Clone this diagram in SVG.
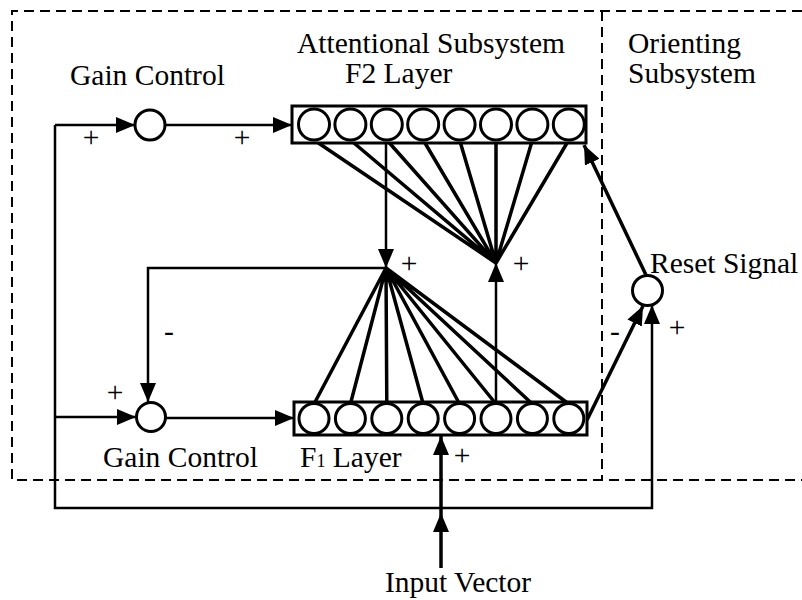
<svg xmlns="http://www.w3.org/2000/svg" width="802" height="600" viewBox="0 0 802 600">
<defs>
<style>
.t{font-family:"Liberation Serif","Times New Roman",serif;font-size:29.5px;fill:#000}
.dash{fill:none;stroke:#000;stroke-width:2;stroke-dasharray:10,6}
.c{fill:#fff;stroke:#000;stroke-width:3}
.box{fill:#fff;stroke:#000;stroke-width:3}
.ln{fill:none;stroke:#000;stroke-width:2.5}
.fan{fill:none;stroke:#000;stroke-width:3.5}
</style>
<marker id="ah" markerUnits="userSpaceOnUse" markerWidth="20" markerHeight="16" refX="19" refY="8" orient="auto">
<path d="M0,0 L19,8 L0,16 z" fill="#000"/>
</marker>
</defs>
<rect width="802" height="600" fill="#fff"/>
<g id="frame">
<path class="dash" d="M802,11 H12 V480 H802"/>
<path class="dash" d="M602,11 V480"/>
</g>
<g id="connectors">
<path class="ln" d="M55,125 H135" marker-end="url(#ah)"/>
<path class="ln" d="M55,125 V508 H652 V305" marker-end="url(#ah)"/>
<path class="ln" d="M55,417 H136" marker-end="url(#ah)"/>
<path class="ln" d="M165,125 H292" marker-end="url(#ah)"/>
<path class="ln" d="M166,418 H294" marker-end="url(#ah)"/>
<path class="ln" d="M386,143 V268" marker-end="url(#ah)"/>
<path class="ln" d="M386,268 H148 V402" marker-end="url(#ah)"/>
<path class="ln" d="M496,402 V263" marker-end="url(#ah)"/>
<path class="fan" d="M441,568 V513" marker-end="url(#ah)"/>
<path class="fan" d="M441,513 V436" marker-end="url(#ah)"/>
<path class="fan" d="M587,420 L643,306" marker-end="url(#ah)"/>
<path class="fan" d="M646,275 L584,145" marker-end="url(#ah)"/>
<g id="f2fan">
<path class="fan" d="M314,140 L496,263 M350.4,140 L496,263 M386.8,140 L496,263 M423.2,140 L496,263 M459.6,140 L496,263 M496,140 L496,263 M532.4,140 L496,263 M568.8,140 L496,263"/>
</g>
<g id="f1fan">
<path class="fan" d="M314,404 L386,268 M350.4,404 L386,268 M386.8,404 L386,268 M423.2,404 L386,268 M459.6,404 L386,268 M496,404 L386,268 M532.4,404 L386,268 M568.8,404 L386,268"/>
</g>
</g>
<g id="gain-top">
<circle class="c" cx="150" cy="125" r="15"/>
<text class="t" x="70" y="85">Gain Control</text>
</g>
<g id="gain-bottom">
<circle class="c" cx="151" cy="417" r="14.5"/>
<text class="t" x="103" y="467">Gain Control</text>
</g>
<g id="f2">
<rect class="box" x="292" y="106" width="294" height="37"/>
<circle class="c" cx="314" cy="124.5" r="15.5"/>
<circle class="c" cx="350.4" cy="124.5" r="15.5"/>
<circle class="c" cx="386.8" cy="124.5" r="15.5"/>
<circle class="c" cx="423.2" cy="124.5" r="15.5"/>
<circle class="c" cx="459.6" cy="124.5" r="15.5"/>
<circle class="c" cx="496" cy="124.5" r="15.5"/>
<circle class="c" cx="532.4" cy="124.5" r="15.5"/>
<circle class="c" cx="568.8" cy="124.5" r="15.5"/>
<text class="t" x="297" y="53">Attentional Subsystem</text>
<text class="t" x="345" y="83">F2 Layer</text>
</g>
<g id="f1">
<rect class="box" x="294" y="402" width="293" height="33"/>
<circle class="c" cx="314" cy="418.5" r="15"/>
<circle class="c" cx="350.4" cy="418.5" r="15"/>
<circle class="c" cx="386.8" cy="418.5" r="15"/>
<circle class="c" cx="423.2" cy="418.5" r="15"/>
<circle class="c" cx="459.6" cy="418.5" r="15"/>
<circle class="c" cx="496" cy="418.5" r="15"/>
<circle class="c" cx="532.4" cy="418.5" r="15"/>
<circle class="c" cx="568.8" cy="418.5" r="15"/>
<text class="t" x="300" y="467">F<tspan font-size="18">1</tspan> Layer</text>
</g>
<g id="reset">
<circle class="c" cx="647.5" cy="290.5" r="15"/>
<text class="t" x="650" y="273">Reset Signal</text>
</g>
<g id="orienting">
<text class="t" x="628" y="53">Orienting</text>
<text class="t" x="628" y="83">Subsystem</text>
</g>
<g id="input">
<text class="t" x="385" y="592">Input Vector</text>
</g>
<g id="signs">
<text class="t" x="91" y="147" text-anchor="middle">+</text>
<text class="t" x="242" y="147" text-anchor="middle">+</text>
<text class="t" x="115" y="402" text-anchor="middle">+</text>
<text class="t" x="169" y="341" text-anchor="middle">-</text>
<text class="t" x="409" y="273" text-anchor="middle">+</text>
<text class="t" x="521" y="273" text-anchor="middle">+</text>
<text class="t" x="615" y="341" text-anchor="middle">-</text>
<text class="t" x="677" y="337" text-anchor="middle">+</text>
<text class="t" x="462" y="465" text-anchor="middle">+</text>
</g>
</svg>
